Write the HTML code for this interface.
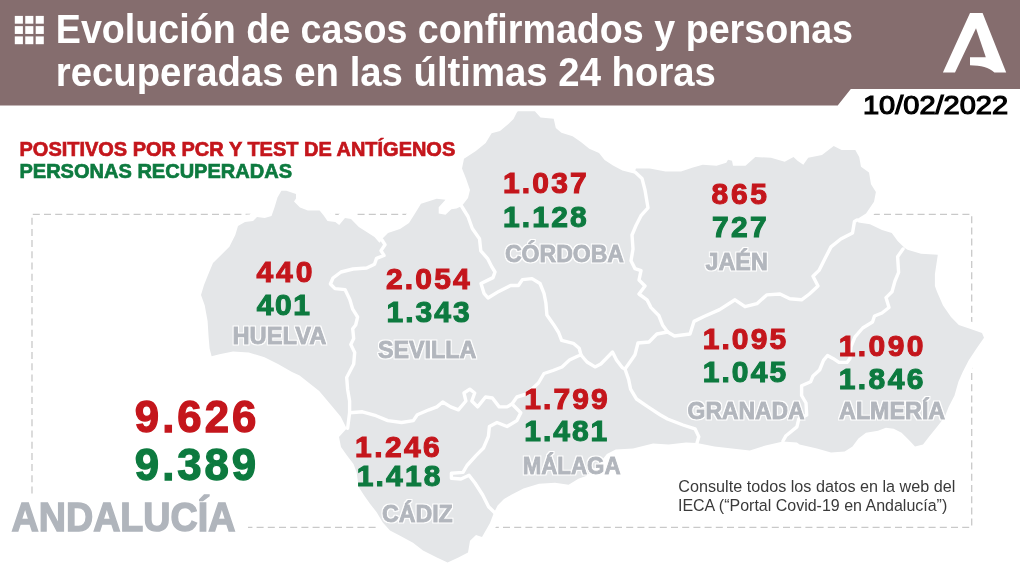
<!DOCTYPE html>
<html lang="es"><head><meta charset="utf-8"><title>Evolución de casos confirmados y personas recuperadas</title>
<style>html,body{margin:0;padding:0;background:#fff}body{width:1020px;height:573px;overflow:hidden}svg{display:block}text{font-family:"Liberation Sans",sans-serif;white-space:pre}</style></head><body>
<svg width="1020" height="573" viewBox="0 0 1020 573">
<defs><filter id="halo" x="-5%" y="-25%" width="110%" height="150%"><feMorphology in="SourceAlpha" operator="dilate" radius="1.4" result="d"/><feGaussianBlur in="d" stdDeviation="0.35" result="b"/><feFlood flood-color="#ffffff"/><feComposite in2="b" operator="in" result="h"/><feMerge><feMergeNode in="h"/><feMergeNode in="SourceGraphic"/></feMerge></filter></defs>
<rect width="1020" height="573" fill="#ffffff"/>
<path d="M32 493.5 V214.3 H971.7 V527.3 H248" fill="none" stroke="#c9c9c9" stroke-width="1.3" stroke-dasharray="7 4.2"/>
<polygon points="211.6,356.3 209.6,348.4 208.6,336.7 207.6,321.0 204.7,305.3 201.0,295.0 204.0,285.0 208.0,275.0 213.0,263.0 219.6,256.5 229.4,246.7 235.3,235.0 238.0,226.0 245.0,222.0 253.0,221.0 257.0,217.0 264.7,218.0 271.5,216.0 274.5,207.5 277.5,197.6 281.4,190.8 286.3,190.8 296.0,194.0 296.0,198.6 294.0,201.5 300.0,207.5 307.8,210.4 319.6,210.4 323.5,215.3 327.5,221.0 335.3,222.0 339.2,225.0 345.0,218.0 351.0,219.0 358.8,227.0 366.7,232.0 374.5,236.9 379.4,242.7 382.0,240.0 383.0,238.0 388.0,233.0 400.0,229.0 409.0,223.0 415.0,213.5 421.0,203.7 436.7,198.8 445.5,199.8 438.7,207.2 438.7,213.5 445.5,214.8 451.3,209.3 456.5,208.6 461.8,206.0 468.0,198.0 470.0,190.0 466.0,178.4 462.0,168.6 464.0,158.8 475.9,151.0 485.7,143.0 491.6,133.3 500.0,131.0 508.4,124.0 513.5,119.0 516.5,113.0 517.8,111.2 534.9,111.2 540.5,117.4 553.7,118.8 555.8,127.9 561.4,132.8 572.6,136.3 580.9,141.9 589.3,148.8 599.0,153.0 604.6,160.0 613.0,165.6 622.4,170.6 634.0,173.5 636.0,168.6 649.8,168.6 665.5,171.6 681.0,171.6 693.0,167.6 702.7,164.7 716.5,165.7 726.3,162.7 728.0,159.8 732.0,160.8 733.0,165.7 745.5,165.7 755.3,156.9 771.0,157.8 784.7,161.8 793.5,156.9 797.5,160.8 803.3,164.7 808.2,157.8 822.0,155.0 833.7,146.0 841.6,150.0 855.3,150.0 859.2,156.9 861.0,166.7 869.0,172.5 871.0,184.3 875.9,192.0 874.0,201.8 866.0,213.5 856.5,219.4 858.4,222.4 870.0,224.3 882.0,230.0 891.8,233.0 897.6,241.0 904.5,247.8 907.5,249.8 921.0,253.7 937.8,254.7 934.9,274.3 934.9,286.0 937.0,291.8 943.0,305.5 951.0,317.0 958.8,325.0 970.6,329.0 982.0,333.0 984.0,337.8 976.5,348.6 968.6,360.4 962.7,372.0 958.4,381.8 954.5,395.5 948.6,407.0 944.7,417.0 936.9,426.9 929.0,436.7 923.0,444.5 915.0,446.5 909.4,440.6 901.6,432.7 893.7,428.8 885.9,427.8 878.0,430.8 866.0,432.7 858.4,438.6 852.5,446.5 844.7,451.4 831.0,452.4 817.0,448.4 799.6,444.5 796.9,442.5 783.0,441.6 765.5,445.5 749.8,450.4 732.0,448.4 714.5,446.5 697.0,443.0 686.0,442.5 668.6,444.5 653.0,443.5 633.0,448.4 615.7,449.4 606.9,454.0 598.0,465.0 586.0,475.9 578.4,478.8 568.6,484.7 555.0,482.7 539.0,483.7 523.5,488.6 511.8,494.5 504.0,499.0 497.6,505.5 493.7,513.3 490.0,523.0 482.0,537.0 476.0,535.0 470.0,540.8 468.0,552.5 458.4,557.5 447.6,562.4 436.9,557.5 423.0,550.6 413.0,542.7 399.6,535.5 390.0,530.5 382.8,522.5 376.5,512.0 370.0,503.7 364.0,495.3 358.7,487.0 356.6,472.3 353.5,464.0 347.0,455.6 341.0,447.0 339.0,437.0 346.7,428.4 340.8,416.7 331.0,405.0 319.2,391.0 299.6,375.5 292.0,372.0 278.0,364.0 264.5,357.3 248.8,352.4 233.0,351.4 219.4,354.3" fill="#e4e6e8" stroke="#ffffff" stroke-width="14" stroke-linejoin="round"/>
<polygon points="211.6,356.3 209.6,348.4 208.6,336.7 207.6,321.0 204.7,305.3 201.0,295.0 204.0,285.0 208.0,275.0 213.0,263.0 219.6,256.5 229.4,246.7 235.3,235.0 238.0,226.0 245.0,222.0 253.0,221.0 257.0,217.0 264.7,218.0 271.5,216.0 274.5,207.5 277.5,197.6 281.4,190.8 286.3,190.8 296.0,194.0 296.0,198.6 294.0,201.5 300.0,207.5 307.8,210.4 319.6,210.4 323.5,215.3 327.5,221.0 335.3,222.0 339.2,225.0 345.0,218.0 351.0,219.0 358.8,227.0 366.7,232.0 374.5,236.9 379.4,242.7 382.0,240.0 383.0,238.0 388.0,233.0 400.0,229.0 409.0,223.0 415.0,213.5 421.0,203.7 436.7,198.8 445.5,199.8 438.7,207.2 438.7,213.5 445.5,214.8 451.3,209.3 456.5,208.6 461.8,206.0 468.0,198.0 470.0,190.0 466.0,178.4 462.0,168.6 464.0,158.8 475.9,151.0 485.7,143.0 491.6,133.3 500.0,131.0 508.4,124.0 513.5,119.0 516.5,113.0 517.8,111.2 534.9,111.2 540.5,117.4 553.7,118.8 555.8,127.9 561.4,132.8 572.6,136.3 580.9,141.9 589.3,148.8 599.0,153.0 604.6,160.0 613.0,165.6 622.4,170.6 634.0,173.5 636.0,168.6 649.8,168.6 665.5,171.6 681.0,171.6 693.0,167.6 702.7,164.7 716.5,165.7 726.3,162.7 728.0,159.8 732.0,160.8 733.0,165.7 745.5,165.7 755.3,156.9 771.0,157.8 784.7,161.8 793.5,156.9 797.5,160.8 803.3,164.7 808.2,157.8 822.0,155.0 833.7,146.0 841.6,150.0 855.3,150.0 859.2,156.9 861.0,166.7 869.0,172.5 871.0,184.3 875.9,192.0 874.0,201.8 866.0,213.5 856.5,219.4 858.4,222.4 870.0,224.3 882.0,230.0 891.8,233.0 897.6,241.0 904.5,247.8 907.5,249.8 921.0,253.7 937.8,254.7 934.9,274.3 934.9,286.0 937.0,291.8 943.0,305.5 951.0,317.0 958.8,325.0 970.6,329.0 982.0,333.0 984.0,337.8 976.5,348.6 968.6,360.4 962.7,372.0 958.4,381.8 954.5,395.5 948.6,407.0 944.7,417.0 936.9,426.9 929.0,436.7 923.0,444.5 915.0,446.5 909.4,440.6 901.6,432.7 893.7,428.8 885.9,427.8 878.0,430.8 866.0,432.7 858.4,438.6 852.5,446.5 844.7,451.4 831.0,452.4 817.0,448.4 799.6,444.5 796.9,442.5 783.0,441.6 765.5,445.5 749.8,450.4 732.0,448.4 714.5,446.5 697.0,443.0 686.0,442.5 668.6,444.5 653.0,443.5 633.0,448.4 615.7,449.4 606.9,454.0 598.0,465.0 586.0,475.9 578.4,478.8 568.6,484.7 555.0,482.7 539.0,483.7 523.5,488.6 511.8,494.5 504.0,499.0 497.6,505.5 493.7,513.3 490.0,523.0 482.0,537.0 476.0,535.0 470.0,540.8 468.0,552.5 458.4,557.5 447.6,562.4 436.9,557.5 423.0,550.6 413.0,542.7 399.6,535.5 390.0,530.5 382.8,522.5 376.5,512.0 370.0,503.7 364.0,495.3 358.7,487.0 356.6,472.3 353.5,464.0 347.0,455.6 341.0,447.0 339.0,437.0 346.7,428.4 340.8,416.7 331.0,405.0 319.2,391.0 299.6,375.5 292.0,372.0 278.0,364.0 264.5,357.3 248.8,352.4 233.0,351.4 219.4,354.3" fill="#e4e6e8"/>
<g fill="none" stroke="#ffffff" stroke-width="3.4" stroke-linejoin="round" stroke-linecap="round">
<polyline points="382.0,240.0 385.0,244.7 381.0,250.6 384.0,255.5 376.5,258.4 374.5,264.3 366.7,268.0 353.0,269.0 341.0,272.0 333.0,278.0 330.4,284.0 335.0,288.6 345.0,289.6 349.8,299.4 352.7,309.2 357.6,317.0 355.7,325.0 352.7,328.8 353.7,338.6 350.8,344.5 354.7,352.4 353.7,364.0 346.7,377.5 347.6,389.2 349.6,401.0 349.6,412.7 347.6,428.4"/>
<polyline points="349.6,412.7 362.4,411.8 376.0,415.7 387.8,420.6 401.6,422.5 413.3,420.6 417.3,414.7 429.0,409.8 436.9,406.9 442.7,402.0 450.6,406.9 458.4,409.8 465.9,401.0 464.0,393.0 469.8,389.2 474.7,393.0 471.8,401.0 477.6,406.9 485.5,397.0 492.4,398.0 499.2,406.9 507.0,406.9 512.0,404.0"/>
<polyline points="512.0,404.0 516.9,397.0 526.7,394.0 538.4,383.0 544.0,373.5 553.0,370.5 562.0,367.0 569.5,360.0 578.0,356.0 581.0,355.0"/>
<polyline points="512.0,404.0 520.8,412.7 516.9,420.6 507.0,426.5 497.0,422.5 489.4,426.5 488.4,436.3 483.5,448.0 475.7,455.9 467.0,465.5 463.0,472.4 451.4,473.3 451.4,478.2 461.0,479.0 469.0,475.3 475.0,483.0 482.7,495.0 488.6,506.7 494.5,512.5"/>
<polyline points="461.8,206.5 468.0,216.5 472.3,228.5 479.5,238.7 480.8,250.8 487.6,258.6 491.6,266.5 495.0,272.0 493.0,277.6 481.0,283.5 484.0,293.3 488.0,298.0 498.8,291.4 510.6,285.5 518.4,285.5 522.4,279.6 532.0,278.6 540.0,283.5 544.0,293.3 545.9,303.0 546.9,315.0 553.7,324.7 558.6,332.5 561.6,340.4 573.3,343.3 579.2,348.2 581.0,355.0"/>
<polyline points="581.0,355.0 587.0,362.0 595.0,366.9 600.8,364.0 606.7,358.0 612.5,352.0 616.5,360.0 622.4,367.8 625.0,369.0"/>
<polyline points="625.0,369.0 630.0,362.0 635.0,354.7 638.0,343.0 649.0,342.0 656.9,334.0 667.6,332.0"/>
<polyline points="635.0,172.0 642.0,178.4 645.0,190.0 647.0,202.0 648.0,207.8 641.0,215.7 636.0,225.5 632.0,235.0 633.0,249.0 631.0,260.8 635.0,268.6 641.0,270.6 639.0,280.0 645.0,286.0 639.0,294.0 647.0,299.8 651.0,307.6 658.8,315.5 662.7,325.3 667.6,332.0"/>
<polyline points="667.6,332.0 674.5,336.0 690.0,334.0 694.0,321.4 704.0,316.5 719.6,309.6 735.0,299.8 745.0,306.7 756.9,303.7 766.7,294.9 780.0,294.0 789.8,298.8 801.6,299.8 809.4,294.0 818.0,286.0 813.0,276.3 819.0,270.4 825.0,258.6 831.0,246.9 840.8,239.0 852.5,233.0 854.5,221.4 857.0,220.0"/>
<polyline points="625.0,369.0 628.6,379.4 630.6,389.2 636.5,399.0 648.0,406.9 660.0,414.7 667.5,419.0 683.0,425.0 695.0,428.8 698.8,436.7 697.0,443.0"/>
<polyline points="903.0,249.0 897.6,256.7 898.6,272.4 895.0,281.0 892.0,291.8 886.0,297.6 889.0,307.5 882.0,313.0 874.5,316.0 872.5,322.0 862.7,328.0 855.0,336.9 851.0,346.7 850.0,358.4 847.0,362.4 839.0,362.4 833.0,358.4 827.5,355.5 823.5,360.4 819.6,370.0 813.0,376.0 810.6,381.8 801.6,385.7 801.6,395.5 806.0,403.0 806.7,415.0 798.8,419.0 796.9,426.9 786.0,435.7 783.0,441.0"/>
</g>
<path d="M0 0 H1020 V89 H850.8 L837.7 105.5 H0 Z" fill="#856d6e"/>
<g fill="#ffffff">
<rect x="14.80" y="15.90" width="8.1" height="7.8"/>
<rect x="25.25" y="15.90" width="8.1" height="7.8"/>
<rect x="35.70" y="15.90" width="8.1" height="7.8"/>
<rect x="14.80" y="26.15" width="8.1" height="7.8"/>
<rect x="25.25" y="26.15" width="8.1" height="7.8"/>
<rect x="35.70" y="26.15" width="8.1" height="7.8"/>
<rect x="14.80" y="36.40" width="8.1" height="7.8"/>
<rect x="25.25" y="36.40" width="8.1" height="7.8"/>
<rect x="35.70" y="36.40" width="8.1" height="7.8"/>
</g>
<path d="M970 12.9 H982.6 L1006.2 72.6 H994.4 C989 67.5 981 65.3 970 65.2 V57.3 H985.8 L976 28.3 L955 72.6 H942.9 Z" fill="#ffffff"/>
<text id="t1" x="55.80" y="43.00" font-size="40.00" font-weight="bold" textLength="797.27" lengthAdjust="spacingAndGlyphs" fill="#ffffff">Evolución de casos confirmados y personas</text>
<text id="t2" x="55.75" y="86.40" font-size="40.00" font-weight="bold" textLength="660.17" lengthAdjust="spacingAndGlyphs" fill="#ffffff">recuperadas en las últimas 24 horas</text>
<text id="date" x="863.00" y="114.21" font-size="25.90" font-weight="normal" textLength="145.12" lengthAdjust="spacingAndGlyphs" fill="#000000" stroke="#000000" stroke-width="1.2">10/02/2022</text>
<text id="lg1" x="19.55" y="155.67" font-size="20.20" font-weight="bold" textLength="435.67" lengthAdjust="spacingAndGlyphs" fill="#c4161c" stroke="#c4161c" stroke-width="0.7">POSITIVOS POR PCR Y TEST DE ANTÍGENOS</text>
<text id="lg2" x="19.44" y="177.57" font-size="20.41" font-weight="bold" textLength="272.60" lengthAdjust="spacingAndGlyphs" fill="#0d7a3f" stroke="#0d7a3f" stroke-width="0.7">PERSONAS RECUPERADAS</text>
<text id="hur" x="256.46" y="281.87" font-size="30.00" font-weight="bold" textLength="55.90" lengthAdjust="spacing" fill="#c4161c" stroke="#c4161c" stroke-width="1.1">440</text>
<text id="hug" x="256.68" y="314.72" font-size="30.00" font-weight="bold" textLength="53.32" lengthAdjust="spacing" fill="#0d7a3f" stroke="#0d7a3f" stroke-width="1.1">401</text>
<text id="hul" x="232.39" y="344.49" font-size="23.80" font-weight="bold" textLength="94.08" lengthAdjust="spacingAndGlyphs" fill="#b2b6bd" stroke="#b2b6bd" stroke-width="0.9" filter="url(#halo)">HUELVA</text>
<text id="ser" x="385.89" y="288.99" font-size="30.00" font-weight="bold" textLength="83.80" lengthAdjust="spacing" fill="#c4161c" stroke="#c4161c" stroke-width="1.1">2.054</text>
<text id="seg" x="386.53" y="322.03" font-size="30.00" font-weight="bold" textLength="83.18" lengthAdjust="spacing" fill="#0d7a3f" stroke="#0d7a3f" stroke-width="1.1">1.343</text>
<text id="sel" x="377.90" y="358.20" font-size="23.80" font-weight="bold" textLength="98.41" lengthAdjust="spacingAndGlyphs" fill="#b2b6bd" stroke="#b2b6bd" stroke-width="0.9" filter="url(#halo)">SEVILLA</text>
<text id="cor" x="502.97" y="193.14" font-size="30.00" font-weight="bold" textLength="83.80" lengthAdjust="spacing" fill="#c4161c" stroke="#c4161c" stroke-width="1.1">1.037</text>
<text id="cog" x="502.97" y="227.06" font-size="30.00" font-weight="bold" textLength="83.73" lengthAdjust="spacing" fill="#0d7a3f" stroke="#0d7a3f" stroke-width="1.1">1.128</text>
<text id="col" x="504.97" y="261.70" font-size="23.80" font-weight="bold" textLength="118.95" lengthAdjust="spacingAndGlyphs" fill="#b2b6bd" stroke="#b2b6bd" stroke-width="0.9" filter="url(#halo)">CÓRDOBA</text>
<text id="jar" x="711.52" y="204.33" font-size="30.00" font-weight="bold" textLength="55.50" lengthAdjust="spacing" fill="#c4161c" stroke="#c4161c" stroke-width="1.1">865</text>
<text id="jag" x="711.99" y="237.40" font-size="30.00" font-weight="bold" textLength="54.62" lengthAdjust="spacing" fill="#0d7a3f" stroke="#0d7a3f" stroke-width="1.1">727</text>
<text id="jal" x="705.46" y="269.84" font-size="23.80" font-weight="bold" textLength="62.33" lengthAdjust="spacingAndGlyphs" fill="#b2b6bd" stroke="#b2b6bd" stroke-width="0.9" filter="url(#halo)">JAÉN</text>
<text id="grr" x="702.66" y="349.44" font-size="30.00" font-weight="bold" textLength="83.45" lengthAdjust="spacing" fill="#c4161c" stroke="#c4161c" stroke-width="1.1">1.095</text>
<text id="grg" x="702.66" y="382.00" font-size="30.00" font-weight="bold" textLength="83.45" lengthAdjust="spacing" fill="#0d7a3f" stroke="#0d7a3f" stroke-width="1.1">1.045</text>
<text id="grl" x="687.59" y="419.11" font-size="23.80" font-weight="bold" textLength="117.08" lengthAdjust="spacingAndGlyphs" fill="#b2b6bd" stroke="#b2b6bd" stroke-width="0.9" filter="url(#halo)">GRANADA</text>
<text id="alr" x="838.66" y="355.68" font-size="30.00" font-weight="bold" textLength="84.83" lengthAdjust="spacing" fill="#c4161c" stroke="#c4161c" stroke-width="1.1">1.090</text>
<text id="alg" x="838.66" y="389.16" font-size="30.00" font-weight="bold" textLength="84.89" lengthAdjust="spacing" fill="#0d7a3f" stroke="#0d7a3f" stroke-width="1.1">1.846</text>
<text id="all" x="839.08" y="419.15" font-size="23.80" font-weight="bold" textLength="106.10" lengthAdjust="spacingAndGlyphs" fill="#b2b6bd" stroke="#b2b6bd" stroke-width="0.9" filter="url(#halo)">ALMERÍA</text>
<text id="mar" x="524.28" y="408.86" font-size="30.00" font-weight="bold" textLength="83.52" lengthAdjust="spacing" fill="#c4161c" stroke="#c4161c" stroke-width="1.1">1.799</text>
<text id="mag" x="524.28" y="441.42" font-size="30.00" font-weight="bold" textLength="82.94" lengthAdjust="spacing" fill="#0d7a3f" stroke="#0d7a3f" stroke-width="1.1">1.481</text>
<text id="mal" x="522.64" y="473.91" font-size="23.80" font-weight="bold" textLength="97.88" lengthAdjust="spacingAndGlyphs" fill="#b2b6bd" stroke="#b2b6bd" stroke-width="0.9" filter="url(#halo)">MÁLAGA</text>
<text id="car" x="355.08" y="457.10" font-size="30.00" font-weight="bold" textLength="84.67" lengthAdjust="spacing" fill="#c4161c" stroke="#c4161c" stroke-width="1.1">1.246</text>
<text id="cag" x="356.66" y="486.41" font-size="30.00" font-weight="bold" textLength="83.77" lengthAdjust="spacing" fill="#0d7a3f" stroke="#0d7a3f" stroke-width="1.1">1.418</text>
<text id="cal" x="381.90" y="521.85" font-size="23.80" font-weight="bold" textLength="70.86" lengthAdjust="spacingAndGlyphs" fill="#b2b6bd" stroke="#b2b6bd" stroke-width="0.9" filter="url(#halo)">CÁDIZ</text>
<text id="anr" x="134.87" y="431.80" font-size="43.72" font-weight="bold" textLength="121.44" lengthAdjust="spacing" fill="#c4161c" stroke="#c4161c" stroke-width="1.3">9.626</text>
<text id="ang" x="134.87" y="479.81" font-size="43.72" font-weight="bold" textLength="121.26" lengthAdjust="spacing" fill="#0d7a3f" stroke="#0d7a3f" stroke-width="1.3">9.389</text>
<text id="anl" x="11.53" y="530.89" font-size="40.17" font-weight="bold" textLength="223.96" lengthAdjust="spacingAndGlyphs" fill="#b0b5bc" stroke="#b0b5bc" stroke-width="1.4">ANDALUCÍA</text>
<text id="f1" x="678.29" y="492.30" font-size="16.80" font-weight="normal" textLength="277.08" lengthAdjust="spacingAndGlyphs" fill="#3a3a3a">Consulte todos los datos en la web del</text>
<text id="f2" x="677.98" y="510.80" font-size="16.80" font-weight="normal" textLength="269.29" lengthAdjust="spacingAndGlyphs" fill="#3a3a3a">IECA (“Portal Covid-19 en Andalucía”)</text>
</svg></body></html>
